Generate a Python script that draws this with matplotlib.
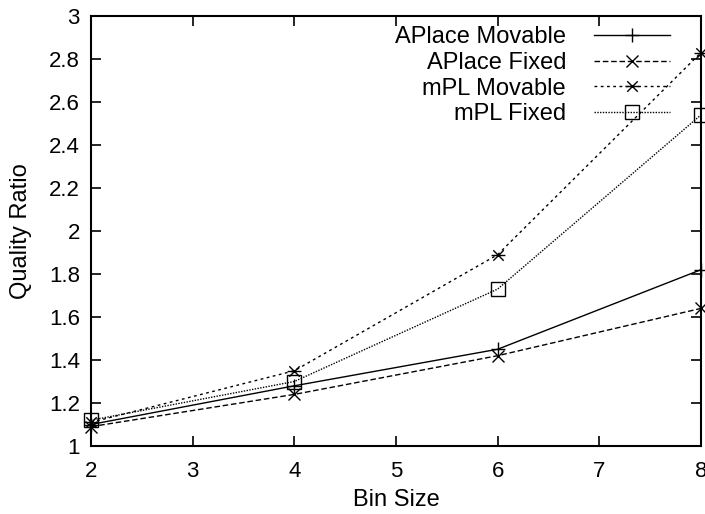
import matplotlib
matplotlib.use('Agg')
import matplotlib.pyplot as plt
from matplotlib.path import Path
from matplotlib.ticker import FormatStrFormatter

plt.rcParams['font.family'] = ['Liberation Sans', 'DejaVu Sans']
plt.rcParams['font.size'] = 16

# data
bin_size = [2, 4, 6, 8]
aplace_movable = [1.10, 1.28, 1.45, 1.82]
aplace_fixed = [1.09, 1.24, 1.42, 1.64]
mpl_movable = [1.11, 1.35, 1.89, 2.83]
mpl_fixed = [1.12, 1.30, 1.73, 2.54]

# gnuplot-like asterisk: horizontal bar plus an x
star = Path([(-1, 0), (1, 0), (-0.75, -0.75), (0.75, 0.75), (-0.75, 0.75), (0.75, -0.75)],
            [Path.MOVETO, Path.LINETO, Path.MOVETO, Path.LINETO, Path.MOVETO, Path.LINETO])

fig = plt.figure(figsize=(7.05, 5.14), dpi=100)
ax = fig.add_axes([91 / 705, 1 - 446 / 514, 610 / 705, 430 / 514])

kw = dict(color='black', linewidth=1.0, clip_on=False, markeredgewidth=1.0)
ax.plot(bin_size, aplace_movable, linestyle='-', marker='+', markersize=10, label='APlace Movable', **kw)
ax.plot(bin_size, aplace_fixed, linestyle=(0, (4, 2)), marker='x', markersize=9, label='APlace Fixed', **kw)
ax.plot(bin_size, mpl_movable, linestyle=(0, (2, 2.5)), marker=star, markersize=10, label='mPL Movable', **kw)
ax.plot(bin_size, mpl_fixed, linestyle=(0, (1, 1)), marker='s', markersize=9.5,
        markerfacecolor='none', label='mPL Fixed', **kw)

ax.set_xlim(2, 8)
ax.set_ylim(1, 3)
ax.set_xticks(range(2, 9))
ax.set_yticks([1 + 0.2 * i for i in range(11)])
ax.yaxis.set_major_formatter(FormatStrFormatter('%g'))
ax.tick_params(direction='in', length=7, width=1.2, top=True, right=True)
ax.tick_params(axis='y', pad=8)
ax.tick_params(axis='x', pad=11)
for s in ax.spines.values():
    s.set_linewidth(1.5)

ax.set_xlabel('Bin Size', fontsize=17, labelpad=5)
ax.set_ylabel('Quality Ratio', fontsize=17, labelpad=12)

ax.legend(loc='upper right', bbox_to_anchor=(670 / 705, 1 - 26 / 514), bbox_transform=fig.transFigure,
          frameon=False, markerfirst=False, fontsize=17, borderpad=0, borderaxespad=0,
          handlelength=3.2, handletextpad=1.2, labelspacing=0.16)

fig.savefig('out.png', dpi=100)
